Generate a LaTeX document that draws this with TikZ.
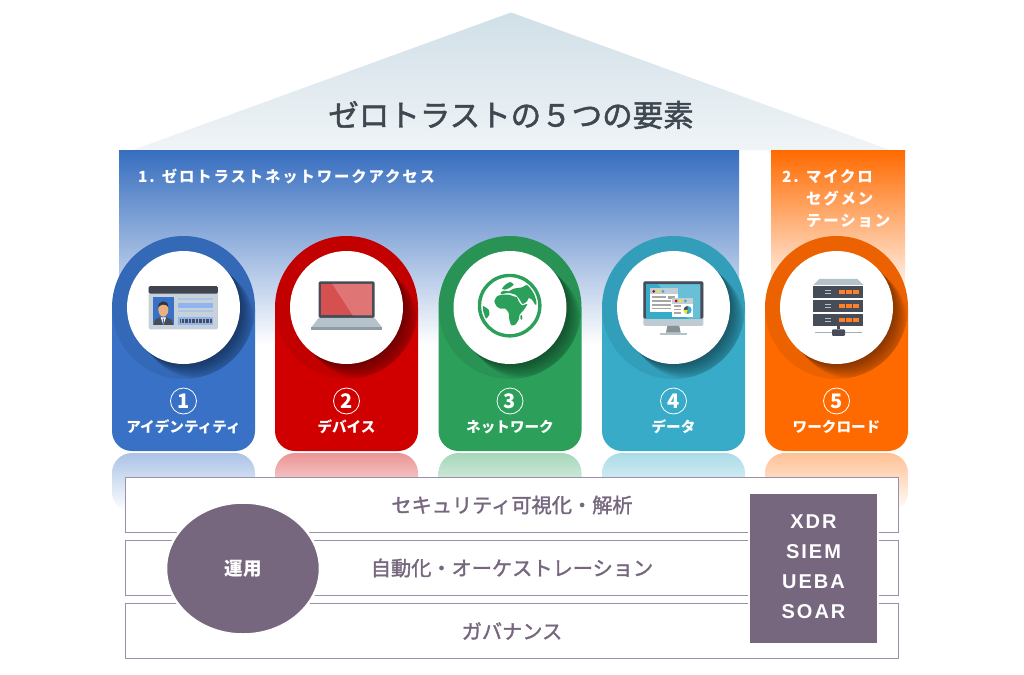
\documentclass[tikz,border=0pt]{standalone}
\usepackage{fontspec}
\setmainfont{Noto Sans CJK JP}
\newfontfamily\cjkwide[LetterSpace=12]{Noto Sans CJK JP}
\newfontfamily\cjkmid[FakeBold=1.6]{Noto Sans CJK JP}
\newfontfamily\latinbold[LetterSpace=10]{Liberation Sans}
\usepackage{xcolor}
\usepackage{tikz}
\usetikzlibrary{positioning,shapes.geometric}
\definecolor{cardblue}{HTML}{3871C5}
\definecolor{cardred}{HTML}{D10000}
\definecolor{cardgreen}{HTML}{2C9F5B}
\definecolor{cardteal}{HTML}{37ABC8}
\definecolor{cardorange}{HTML}{FF6A00}
\definecolor{plum}{HTML}{76677F}
\definecolor{bandline}{HTML}{9A90AB}
\definecolor{inkdark}{HTML}{3F4750}
\definecolor{slate}{HTML}{464C58}
\definecolor{steel}{HTML}{B4C2CA}
\definecolor{roofhigh}{HTML}{D0DFE7}
\definecolor{rooflow}{HTML}{F0F4F7}
\definecolor{skin}{HTML}{EAB07E}
\definecolor{idblue}{HTML}{8FB4EF}
\definecolor{idpale}{HTML}{A9C6EA}
\definecolor{screenred}{HTML}{D65050}
\definecolor{screenpink}{HTML}{E07575}
\begin{document}
\begin{tikzpicture}[
  x=1pt, y=-1pt,
  node distance=8.5pt,
  icon/.style={shift={#1}, x=0.3333pt, y=-0.3333pt},
  band/.style={draw=bandline, line width=1.1pt, fill=white, outer sep=0pt, text=plum, font=\cjkmid\fontsize{20.2}{20}\selectfont, minimum width=773pt, minimum height=54.5pt},
  paneltext/.style={text=white, anchor=west, inner sep=0pt, font=\cjkwide\bfseries\fontsize{15.4}{15}\selectfont},
  cardnum/.style={circle, draw=white, line width=0.8pt, text=white, inner sep=0pt, minimum size=26pt, font=\bfseries\fontsize{20}{20}\selectfont},
  cardtext/.style={text=white, inner sep=0pt, font=\bfseries\fontsize{14.6}{14}\selectfont},
  toolstext/.style={text=white, inner sep=0pt, font=\latinbold\bfseries\fontsize{20}{20}\selectfont}
]
\useasboundingbox (0,0) rectangle (1024,674);
\fill[white] (0,0) rectangle (1024,674);

\shade[top color=roofhigh, bottom color=rooflow] (511,12.5) -- (890,150) -- (133,150) -- cycle;
\node[text=inkdark, inner sep=0pt, font=\cjkmid\fontsize{30.5}{30}\selectfont] (title) at (511,115) {ゼロトラストの５つの要素};

\shade[top color=cardblue!97!black, bottom color=white] (119,150) rectangle (739,345);
\shade[top color=cardorange, bottom color=white] (771,150) rectangle (905,300);
\node[paneltext] (zna) at (138,176.5) {1. ゼロトラストネットワークアクセス};
\node[paneltext] (micro1) at (782,177) {2. マイクロ};
\node[paneltext] (micro2) at (806,199) {セグメン};
\node[paneltext] (micro3) at (806,221) {テーション};

\foreach \cx/\base/\n/\lab in {183.5/cardblue/1/アイデンティティ, 346.5/cardred/2/デバイス, 510/cardgreen/3/ネットワーク, 673.5/cardteal/4/データ, 836.5/cardorange/5/ワークロード} {
  \begin{scope}[shift={(\cx,0)}]
    \shade[top color=\base!42, bottom color=white, rounded corners=20pt] (-71.5,453) rectangle (71.5,512);
    \fill[\base] (-71.5,307.5) arc[start angle=180, end angle=0, radius=71.5pt] -- (71.5,431) arc[start angle=0, end angle=-90, radius=20pt] -- (-51.5,451) arc[start angle=-90, end angle=-180, radius=20pt] -- cycle;
    \begin{scope}
      \clip (0,307.5) circle[radius=71.5pt];
      \fill[black, opacity=0.07] (0,307.5) circle[radius=71.5pt];
      \foreach \s in {1,...,15}
        \fill[black, opacity=0.03] (\s,307.5+\s) circle[radius=56.5pt];
    \end{scope}
    \fill[white] (0,307.5) circle[radius=56.5pt];
    \node[cardnum] (num\n) at (0,401) {\n};
    \node[cardtext] (lab\n) at (0,427) {\lab};
  \end{scope}
}

\begin{scope}[icon={(145,278)}]
  \fill[steel!75, rounded corners=1.5pt] (11,24) rectangle (219,154);
  \fill[slate!90!black, rounded corners=1.5pt] (11,24) rectangle (219,47);
  \fill[cardblue] (24,58) rectangle (86,141);
  \fill[slate] (26,141) -- (30,125) -- (45,118) -- (65,118) -- (80,125) -- (84,141) -- cycle;
  \fill[white] (47,118) -- (63,118) -- (55,141) -- cycle;
  \fill[cardblue] (53,122) -- (57,122) -- (56,141) -- (54,141) -- cycle;
  \fill[skin] (55,95) ellipse[x radius=5pt, y radius=7pt];
  \fill[slate!70!black] (40,88) .. controls (38,64) and (72,64) .. (70,88) .. controls (64,76) and (46,78) .. (40,88);
  \fill[idpale] (100,60) rectangle (205,67);
  \fill[idblue] (100,74) rectangle (205,90);
  \fill[idpale] (100,96) rectangle (205,103);
  \fill[idblue] (100,118) rectangle (205,140);
  \draw[slate, line width=4.3pt, dash pattern=on 0.8pt off 0.6pt] (106,129.5) -- (200,129.5);
\end{scope}

\begin{scope}[icon={(100,220)}]
  \fill[slate, rounded corners=1.5pt] (656,184) rectangle (824,294);
  \fill[screenred] (664,192) rectangle (816,286);
  \fill[screenpink] (697,192) -- (816,192) -- (816,286) -- (758,286) -- cycle;
  \fill[steel] (656,294) -- (824,294) -- (846,322) -- (634,322) -- cycle;
  \fill[steel!80!black] (634,322) rectangle (846,330);
\end{scope}

\begin{scope}[icon={(472,268)}]
  \draw[cardgreen, line width=3.4pt] (113,113) circle[radius=30.2pt];
  \begin{scope}
    \clip (113,113) circle[radius=27pt];
    \fill[cardgreen] plot[smooth cycle, tension=0.35] coordinates {(67,100) (75,85) (90,80) (110,80) (125,85) (135,88) (140,100) (150,112) (166,108) (156,125) (143,140) (140,155) (130,170) (118,172) (112,155) (110,135) (100,122) (85,122) (74,115)};
    \fill[cardgreen] plot[smooth cycle, tension=0.35] coordinates {(85,75) (95,68) (110,70) (125,62) (150,58) (165,50) (180,55) (190,75) (198,105) (190,110) (180,95) (170,90) (165,100) (152,108) (140,90) (130,80) (110,75) (90,78)};
    \fill[cardgreen] plot[smooth cycle, tension=0.35] coordinates {(90,62) (100,50) (115,42) (125,50) (115,58) (100,65)};
    \fill[cardgreen] plot[smooth cycle, tension=0.35] coordinates {(32,114) (50,125) (52,140) (42,152) (32,138)};
    \fill[cardgreen] (148,148) ellipse[x radius=1pt, y radius=2.5pt];
  \end{scope}
\end{scope}

\begin{scope}[icon={(638,276)}]
  \fill[steel!85, rounded corners=1.5pt] (16,16) rectangle (196,150);
  \fill[slate, rounded corners=1.5pt] (16,16) rectangle (196,128);
  \fill[cardteal] (25,25) rectangle (187,128);
  \fill[cardteal!75!white] (60,25) -- (187,25) -- (187,128) -- (150,128) -- cycle;
  \fill[steel!75!black] (88,150) -- (124,150) -- (128,170) -- (84,170) -- cycle;
  \fill[steel] (66,170) rectangle (146,178);
  \fill[white] (36,37) rectangle (120,108);
  \fill[steel!80] (36,37) rectangle (120,54);
  \fill[gray!70] (42,61) rectangle (85,67);
  \fill[gray!70] (90,60) rectangle (112,70);
  \foreach \ly in {73,84,95}
    \fill[gray!70] (42,\ly) rectangle (98,\ly+5);
  \fill[white] (102,66) rectangle (166,122);
  \fill[steel!80] (102,66) rectangle (166,83);
  \foreach \ly in {88,98,108}
    \fill[gray!70] (109,\ly) rectangle (130,\ly+5);
  \foreach \dx/\dc in {0/red!75!black, 14/yellow!90!orange, 28/cardteal} {
    \fill[\dc] (47+\dx,46) circle[radius=1.5pt];
    \fill[\dc] (114+\dx,75) circle[radius=1.5pt];
  }
  \fill[cardteal] (149,102) circle[radius=4pt];
  \fill[slate] (149,102) -- (137,102) arc[start angle=180, end angle=90, radius=4pt] -- cycle;
  \fill[yellow!90!orange] (149,102) -- (137,102) arc[start angle=180, end angle=250, radius=4pt] -- cycle;
\end{scope}

\begin{scope}[icon={(740,130)}]
  \fill[steel] (238,447) -- (352,447) -- (370,465) -- (220,465) -- cycle;
  \foreach \uy in {467,509,551} {
    \fill[slate] (220,\uy) rectangle (370,\uy+36);
    \fill[steel] (254,\uy+13) rectangle (274,\uy+17);
    \fill[steel] (254,\uy+21) rectangle (274,\uy+25);
    \foreach \ux in {298,319,340}
      \fill[cardorange!85!white] (\ux,\uy+12) rectangle (\ux+18,\uy+25);
  }
  \fill[steel!90!black] (226,605) rectangle (365,610);
  \fill[slate] (291,587) rectangle (299,598);
  \fill[slate, rounded corners=1pt] (276,598) rectangle (315,618);
\end{scope}

\node[band] (visual) at (512,505) {セキュリティ可視化・解析};
\node[band, below=of visual] (auto) {自動化・オーケストレーション};
\node[band, below=of auto] (gov) {ガバナンス};

\node[ellipse, draw=white, line width=2.5pt, fill=plum, text=white, inner sep=0pt, minimum width=154pt, minimum height=132pt, font=\bfseries\fontsize{18.5}{18}\selectfont] (ops) at (243,568.5) {運用};
\node[draw=white, line width=2pt, fill=plum, inner sep=0pt, minimum width=129.5pt, minimum height=151pt] (tools) at (813.5,568.5) {};
\node[toolstext] (xdr) at (813.5,522) {XDR};
\node[toolstext] (siem) at (813.5,552) {SIEM};
\node[toolstext] (ueba) at (813.5,582) {UEBA};
\node[toolstext] (soar) at (813.5,612) {SOAR};
\end{tikzpicture}
\end{document}
